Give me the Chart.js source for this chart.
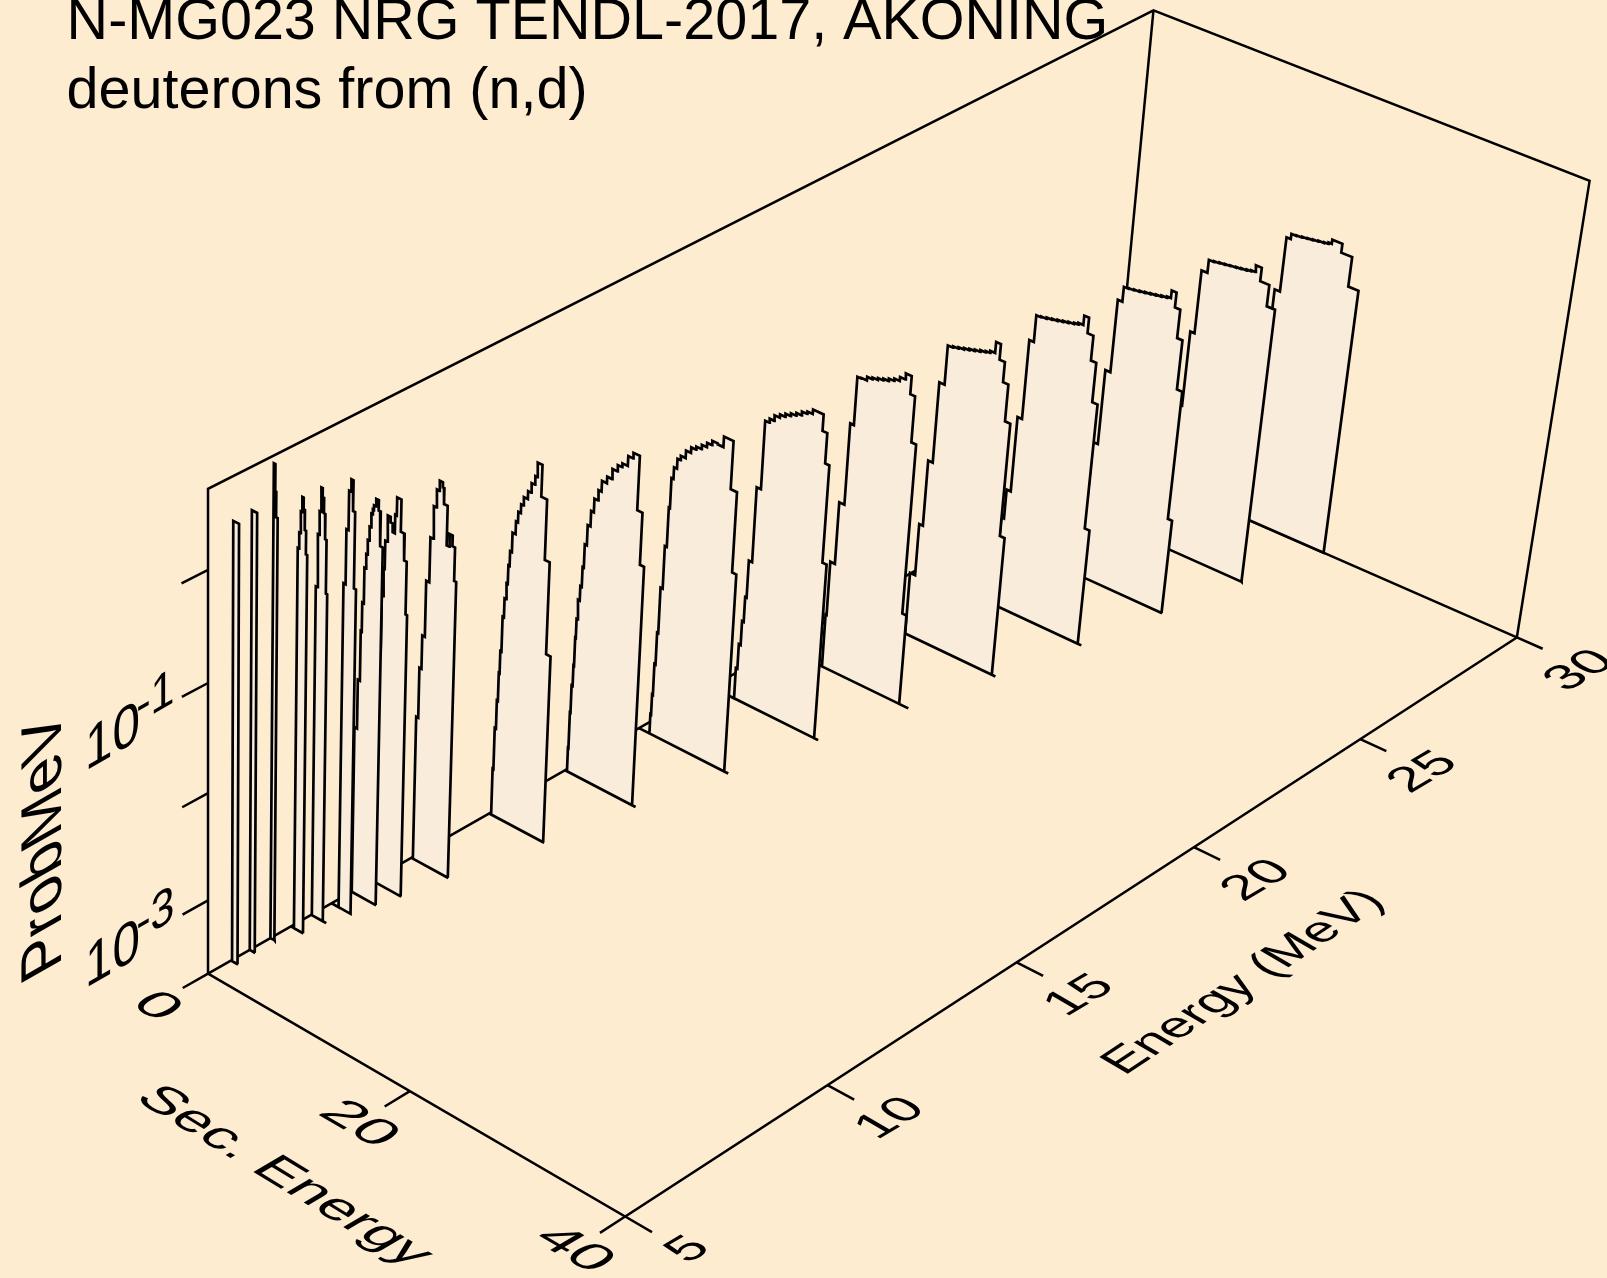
<!DOCTYPE html>
<html>
<head>
<meta charset="utf-8">
<title>N-MG023 deuterons from (n,d)</title>
<script src="https://cdn.jsdelivr.net/npm/chart.js@4/dist/chart.umd.min.js"></script>
<style>
html, body { margin: 0; padding: 0; background: #feecd1; overflow: hidden; }
canvas { display: block; }
</style>
</head>
<body>
<canvas id="chart" width="1607" height="1278"></canvas>
<script>
// incident energies, one spectrum for each
const incident = [5.55, 6, 6.5, 7, 7.5, 8, 8.5, 9, 10, 12, 14, 16, 18, 20, 22, 24, 26, 28, 30];

// bin edges (secondary energy, MeV) and prob/MeV of each spectrum
const sec05 = [0.1, 0.65];
const prob05 = [2.1];
const sec06 = [0, 0.5];
const prob06 = [2.1];
const sec065 = [0, 0.15, 0.25, 0.4];
const prob065 = [4.3, 2.5, 1.5];
const sec07 = [0.3, 0.43, 0.56, 0.69, 0.82, 0.95, 1.08, 1.21];
const prob07 = [0.65, 0.9, 1.4, 1.9, 1.5, 1.0, 0.62];
const sec075 = [0.05, 0.19, 0.33, 0.47, 0.6, 0.74, 0.88, 1.02, 1.15];
const prob075 = [0.23, 0.68, 1.1, 1.8, 1.5, 1.1, 0.66, 0.22];
const sec08 = [0.7, 0.9, 1.1, 1.3, 1.5, 1.7, 1.9];
const prob08 = [0.21, 0.65, 1.45, 1.86, 1, 0.21];
const sec085 = [0, 0.25, 0.45, 0.55, 0.7, 0.85, 0.97, 1.12, 1.27, 1.4, 1.5, 1.7, 1.95, 2.15, 2.4];
const prob085 = [0.0074, 0.021, 0.06, 0.11, 0.23, 0.31, 0.42, 0.56, 0.74, 0.82, 0.9, 1.05, 0.85, 0.42];
const sec09 = [0.05, 0.3, 0.45, 0.57, 0.68, 0.87, 1.15, 1.36, 1.57, 1.72, 2.13, 2.5, 2.75, 2.9];
const prob09 = [0.002, 0.03, 0.1, 0.18, 0.32, 0.55, 0.49, 0.41, 0.6, 0.87, 0.45, 0.26, 0.087];
const sec10 = [0.15, 0.35, 0.55, 0.8, 1.1, 1.35, 1.6, 1.85, 2.15, 2.3, 2.65, 2.9, 3.2, 3.45, 3.65];
const prob10 = [0.0046, 0.0135, 0.0275, 0.09, 0.23, 0.45, 0.65, 0.8, 0.72, 0.52, 0.23, 0.3, 0.24, 0.12];
const sec12 = [0.2, 0.28, 0.4, 0.5, 0.58, 0.69, 0.82, 0.96, 1.08, 1.2, 1.37, 1.66, 1.85, 2.09, 2.32, 2.7, 3.0, 3.32, 3.5, 3.95, 4.5, 4.97, 5.4];
const prob12 = [0.00056, 0.0014, 0.0026, 0.0048, 0.0078, 0.0166, 0.025, 0.035, 0.052, 0.071, 0.107, 0.14, 0.175, 0.21, 0.25, 0.295, 0.36, 0.43, 0.58, 0.3, 0.085, 0.012];
const sec14 = [0.2, 0.25, 0.31, 0.41, 0.47, 0.53, 0.59, 0.76, 0.9, 1.02, 1.22, 1.49, 1.75, 2.1, 2.39, 2.86, 3.32, 3.8, 4.22, 4.73, 5.2, 5.8, 6.3, 6.7];
const prob14 = [0.00034, 0.00076, 0.0014, 0.0022, 0.0041, 0.0062, 0.0095, 0.013, 0.02, 0.033, 0.051, 0.071, 0.095, 0.118, 0.148, 0.17, 0.21, 0.24, 0.26, 0.32, 0.36, 0.115, 0.038];
const sec16 = [1.05, 1.12, 1.2, 1.31, 1.42, 1.63, 1.82, 1.93, 2.12, 2.4, 2.7, 3.16, 3.63, 4.1, 4.6, 5.08, 5.55, 6.05, 6.6, 7.5, 8.1, 8.5];
const prob16 = [0.00031, 0.00049, 0.00098, 0.002, 0.0055, 0.014, 0.033, 0.063, 0.081, 0.1, 0.11, 0.129, 0.145, 0.155, 0.17, 0.186, 0.204, 0.2, 0.25, 0.09, 0.016];
const sec18 = [2.3, 2.45, 2.63, 2.79, 2.93, 3.25, 3.66, 4.07, 4.5, 5, 5.5, 6, 6.5, 7, 7.5, 8, 9, 9.45, 9.85, 10.25];
const prob18 = [0.0004, 0.0007, 0.0012, 0.0021, 0.0048, 0.025, 0.11, 0.12, 0.135, 0.145, 0.155, 0.165, 0.175, 0.19, 0.2, 0.22, 0.155, 0.081, 0.0098];
const sec20 = [4.05, 4.15, 4.6, 5.1, 5.45, 5.85, 6.35, 6.85, 7.35, 7.85, 8.35, 8.85, 9.35, 9.85, 10.4, 10.85, 11.3, 11.7];
const prob20 = [0.00066, 0.0022, 0.0087, 0.052, 0.148, 0.15, 0.162, 0.168, 0.175, 0.182, 0.192, 0.202, 0.22, 0.25, 0.17, 0.063, 0.0015];
const sec22 = [5.5, 6.0, 6.36, 6.8, 7.3, 7.8, 8.3, 8.8, 9.3, 9.8, 10.3, 10.8, 11.2, 11.65, 12.1, 12.6, 13.1, 13.6, 14.05];
const prob22 = [0.00081, 0.0026, 0.0112, 0.066, 0.155, 0.16, 0.165, 0.171, 0.177, 0.183, 0.19, 0.196, 0.205, 0.26, 0.186, 0.12, 0.054, 0.0045];
const sec24 = [7.6, 7.87, 8.27, 8.7, 9.13, 9.6, 10.1, 10.6, 11.1, 11.6, 12.1, 12.6, 13.0, 13.45, 13.9, 14.45, 14.95, 15.45, 15.9];
const prob24 = [0.0015, 0.0029, 0.0155, 0.089, 0.16, 0.163, 0.168, 0.172, 0.177, 0.182, 0.187, 0.193, 0.2, 0.245, 0.175, 0.102, 0.043, 0.0027];
const sec26 = [9.5, 9.66, 10.12, 10.6, 11.03, 11.5, 12, 12.5, 13, 13.5, 14, 14.5, 15, 15.35, 15.8, 16.3, 16.8, 17.3, 17.7];
const prob26 = [0.0013, 0.0044, 0.0234, 0.117, 0.162, 0.165, 0.168, 0.172, 0.176, 0.18, 0.184, 0.189, 0.195, 0.23, 0.166, 0.089, 0.03, 0.0017];
const sec28 = [11.4, 11.64, 11.9, 12.3, 12.85, 13.35, 13.85, 14.35, 14.85, 15.35, 15.85, 16.35, 16.75, 17.1, 17.65, 18.5, 19.27];
const prob28 = [0.001, 0.0055, 0.0295, 0.12, 0.16, 0.163, 0.166, 0.169, 0.172, 0.175, 0.178, 0.182, 0.186, 0.215, 0.16, 0.1];
const sec30 = [12.7, 13.2, 13.7, 14.2, 14.6, 15.1, 15.6, 16.1, 16.6, 17.1, 17.6, 18, 18.3, 19.24, 20.25, 21.2];
const prob30 = [0.001, 0.006, 0.041, 0.138, 0.155, 0.157, 0.16, 0.163, 0.166, 0.169, 0.172, 0.178, 0.195, 0.16, 0.083];

// where the base line of each spectrum stops
const baseEnd = [0.7, 0.55, 0.45, 1.25, 1.5, 1.9, 2.45, 2.95, 3.7, 5.5, 7.05, 8.9, 10.65, 12.6, 14.4, 16.25, 17.75, 19.3, 21.2];

const secs = [sec05, sec06, sec065, sec07, sec075, sec08, sec085, sec09, sec10, sec12, sec14, sec16, sec18, sec20, sec22, sec24, sec26, sec28, sec30];
const probs = [prob05, prob06, prob065, prob07, prob075, prob08, prob085, prob09, prob10, prob12, prob14, prob16, prob18, prob20, prob22, prob24, prob26, prob28, prob30];

// axes of the box
const energyRange = [5, 30];
const secRange = [0, 40];
const probRange = [2e-4, 5];
const energyTicks = [5, 10, 15, 20, 25, 30];
const secTicks = [0, 20, 40];
const probTicks = [1e-3, 1e-2, 1e-1, 1];
const probLabels = [[1e-3, '-3'], [1e-1, '-1']];

const titleLines = ['N-MG023 NRG TENDL-2017, AKONING', 'deuterons from (n,d)'];

const inkColor = '#000000';
const fillColor = '#f9ecdb';
const fontName = '"Liberation Sans"';

// my edge readings came out a touch short
const secStretch = 1.015;

// the box is seen in perspective, so go through a projective map
function project(energy, sec, prob) {
    const e = (energy - energyRange[0]) / (energyRange[1] - energyRange[0]);
    const s = (sec - secRange[0]) / (secRange[1] - secRange[0]);
    const lo = Math.log10(probRange[0]);
    const z = (Math.log10(prob) - lo) / (Math.log10(probRange[1]) - lo);
    const w = 1 + 0.163 * e - 0.062 * s - 0.058 * z;
    // the far top corner sits a little off the plain map
    const far = e * z * Math.pow(1 - s, 3);
    return {
        x: (203 + 1057.3 * e + 369.2 * s - 11.8 * z) / w - 4.4 * far,
        y: (950 - 428.6 * e + 163.4 * s - 500.7 * z) / w - 8.6 * far,
    };
}

const floorProb = probRange[0];

function spectrumPoints(i) {
    const energy = incident[i];
    const edges = secs[i].map(function (s) { return s * secStretch; });
    const end = baseEnd[i] * secStretch;
    const last = edges[edges.length - 1];
    const values = probs[i];
    const pts = [project(energy, secRange[0], floorProb), project(energy, edges[0], floorProb)];
    values.forEach(function (v, k) {
        pts.push(project(energy, edges[k], v));
        pts.push(project(energy, edges[k + 1], v));
    });
    pts.push(project(energy, last, floorProb));
    pts.push(project(energy, end, floorProb));
    pts.push(project(energy, last, floorProb));
    pts.push(project(energy, edges[0], floorProb));
    return pts;
}

function lineSet(data, width) {
    return {
        data: data,
        showLine: true,
        fill: false,
        borderColor: inkColor,
        borderWidth: width,
        pointRadius: 0,
        borderJoinStyle: 'miter',
        borderCapStyle: 'butt',
    };
}

const datasets = [];

// first dataset ends up on top, so nearest spectrum goes first
incident.forEach(function (_, i) {
    const set = lineSet(spectrumPoints(i), 2.7);
    set.fill = 'shape';
    set.backgroundColor = fillColor;
    datasets.push(set);
});

const [e0, e1] = energyRange;
const [s0, s1] = secRange;
const [p0, p1] = probRange;
datasets.push(lineSet([project(e0, s0, p0), project(e0, s1, p0), project(e1, s1, p0)], 2.5));
datasets.push(lineSet([project(e0, s0, p0), project(e1, s0, p0), project(e1, s1, p0)], 2.5));
datasets.push(lineSet([project(e1, s0, p0), project(e1, s0, p1)], 2.5));
datasets.push(lineSet([project(e0, s0, p0), project(e0, s0, p1), project(e1, s0, p1), project(e1, s1, p1), project(e1, s1, p0)], 2.5));

probTicks.forEach(function (p) {
    datasets.push(lineSet([project(e0, s0, p), project(e0 - 0.6, s0, p)], 2.5));
});
secTicks.forEach(function (s) {
    datasets.push(lineSet([project(e0, s, p0), project(e0 - 0.6, s, p0)], 2.5));
});
energyTicks.forEach(function (e) {
    datasets.push(lineSet([project(e, s1, p0), project(e, s1 + 2.4, p0)], 2.5));
});

// skewed text, dir runs along the baseline and down is the glyph's downward side
function skewText(chart, text, at, dir, down, size, align) {
    const ctx = chart.ctx;
    const px = chart.scales.x.getPixelForValue(at.x);
    const py = chart.scales.y.getPixelForValue(at.y);
    ctx.save();
    ctx.transform(dir[0], dir[1], down[0], down[1], px, py);
    ctx.font = size + 'px ' + fontName;
    ctx.fillStyle = inkColor;
    ctx.textAlign = align || 'left';
    ctx.textBaseline = 'alphabetic';
    ctx.fillText(text, 0, 0);
    ctx.restore();
}

const boxText = {
    id: 'boxText',
    afterDraw: function (chart) {
        const size = 57.5;
        const flat = [1, 0];
        const straight = [0, 1];

        skewText(chart, titleLines[0], { x: 65, y: 38 }, flat, straight, size);
        skewText(chart, titleLines[1], { x: 65, y: 105 }, flat, straight, size);

        // probability axis, the decade labels stand in the wall plane
        probLabels.forEach(function (lab) {
            const pos = project(e0, s0, lab[0]);
            const base = { x: pos.x - 120, y: pos.y + 86 };
            skewText(chart, '10', base, [0.86, -0.5], [0, 1.04], size);
            skewText(chart, lab[1], { x: base.x + 50, y: base.y - 46 }, [0.86, -0.5], [0, 1.04], 50);
        });
        skewText(chart, 'ProbMeV', { x: 60, y: 942 }, [0, -1.08], [1.0, -0.57], size);

        // floor labels
        secTicks.forEach(function (s) {
            const pos = project(e0, s, p0);
            const at = { x: pos.x - 62, y: pos.y + 39 };
            skewText(chart, String(s), at, [0.95, 0.55], [-0.75, 0.44], size, 'center');
        });
        skewText(chart, 'Sec. Energy', { x: 130, y: 1072 }, [0.885, 0.54], [-0.75, 0.44], size);

        energyTicks.forEach(function (e) {
            const pos = project(e, s1, p0);
            const at = { x: pos.x + 73, y: pos.y + 39 };
            skewText(chart, String(e), at, [0.8, -0.47], [0.72, 0.42], size, 'center');
        });
        skewText(chart, 'Energy (MeV)', { x: 1097, y: 1050 }, [0.74, -0.49], [0.72, 0.42], size);
    },
};

document.addEventListener('DOMContentLoaded', function () {
    new Chart(document.getElementById('chart').getContext('2d'), {
        type: 'scatter',
        data: { datasets: datasets },
        options: {
            responsive: false,
            animation: false,
            events: [],
            layout: { padding: 0 },
            plugins: {
                legend: { display: false },
                tooltip: { enabled: false },
                title: { display: false },
            },
            scales: {
                x: { type: 'linear', display: false, min: 0, max: 1568 },
                y: { type: 'linear', display: false, min: 0, max: 1247, reverse: true },
            },
        },
        plugins: [boxText],
    });
});
</script>
</body>
</html>
